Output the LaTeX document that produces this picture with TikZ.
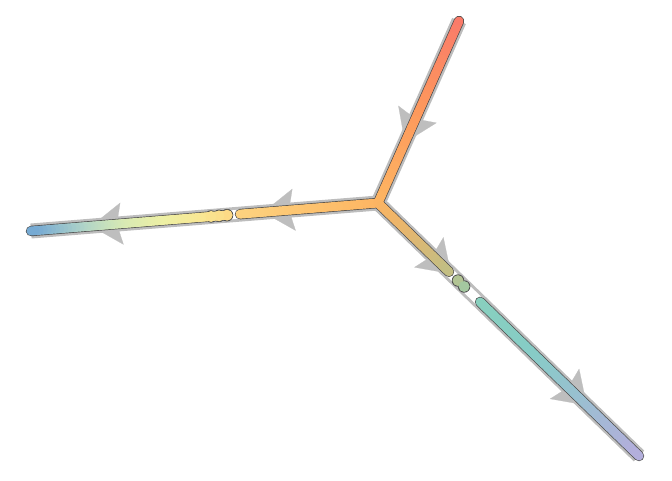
\documentclass[tikz,border=0pt]{standalone}
\usetikzlibrary{calc,arrows.meta}
\definecolor{trajgray}{HTML}{BDBDBD}
\definecolor{arrowgray}{HTML}{BEBEBE}
\definecolor{cellline}{HTML}{4A4A4A}
% colour stops
\definecolor{cT}{HTML}{FA7A6A}
\definecolor{cTm}{HTML}{FD985C}
\definecolor{cJ}{HTML}{FDB462}
\definecolor{cLa}{HTML}{FDC470}
\definecolor{cLb}{HTML}{FDD27F}
\definecolor{cLc}{HTML}{FDDA86}
\definecolor{cLd}{HTML}{F9E692}
\definecolor{cLe}{HTML}{EEF0A4}
\definecolor{cLf}{HTML}{D8EAB4}
\definecolor{cLg}{HTML}{B0D4C8}
\definecolor{cL}{HTML}{74A8D4}
\definecolor{cBa}{HTML}{E6B66E}
\definecolor{cBb}{HTML}{C2BE84}
\definecolor{cBxa}{HTML}{B2C494}
\definecolor{cBxb}{HTML}{A4C8A0}
\definecolor{cBc}{HTML}{88D0BE}
\definecolor{cBd}{HTML}{86CCC6}
\definecolor{cBe}{HTML}{9CBED2}
\definecolor{cB}{HTML}{B4AEDC}
\tikzset{
  trajband/.style={draw=trajgray, line width=15pt, line join=round},
  trajcore/.style={draw=white, line width=9pt, line join=round},
  flowtip/.style={draw=arrowgray, line width=0.2pt, -{Stealth[length=31pt,width=42pt,inset=5pt]}},
  celloutline/.style={draw=cellline, line width=10.4pt, line cap=round},
  cellfill/.style={line width=9pt, line cap=round},
  blobout/.style={fill=cellline, draw=none},
}
\newcommand{\gradrun}[4]{%
  \foreach \i in {0,...,11}{%
    \pgfmathsetmacro{\ta}{\i/12}%
    \pgfmathsetmacro{\tb}{(\i+1)/12}%
    \pgfmathsetmacro{\pc}{100-100*(\i+0.5)/12}%
    \colorlet{segcol}{#3!\pc!#4}%
    \draw[cellfill, draw=segcol] ($(#1)!\ta!(#2)$) -- ($(#1)!\tb!(#2)$);
  }%
}
\begin{document}
\begin{tikzpicture}[x=1pt,y=-1pt]
\useasboundingbox (0,0) rectangle (672,480);
% main points
\coordinate (T) at (459,21);
\coordinate (J) at (378,203);
\coordinate (L) at (31,231);
\coordinate (B) at (639,456);
% stops along branches
\coordinate (Tm) at ($(T)!0.5!(J)$);
\coordinate (La) at ($(J)!0.2248!(L)$);
\coordinate (Lb) at ($(J)!0.3977!(L)$);
\coordinate (Lc) at ($(J)!0.4323!(L)$);
\coordinate (Ld) at ($(J)!0.513!(L)$);
\coordinate (Le) at ($(J)!0.628!(L)$);
\coordinate (Lf) at ($(J)!0.7435!(L)$);
\coordinate (Lg) at ($(J)!0.8588!(L)$);
\coordinate (Lxa) at ($(J)!0.435!(L)$);
\coordinate (Lxb) at ($(J)!0.458!(L)$);
\coordinate (Lxc) at ($(J)!0.481!(L)$);
\coordinate (Ba) at ($(J)!0.12!(B)$);
\coordinate (Bb) at ($(J)!0.272!(B)$);
\coordinate (Bxa) at ($(J)!0.3065!(B)$);
\coordinate (Bxb) at ($(J)!0.33!(B)$);
\coordinate (Bc) at ($(J)!0.391!(B)$);
\coordinate (Bd) at ($(J)!0.6!(B)$);
\coordinate (Be) at ($(J)!0.8!(B)$);
% trajectory
\draw[trajband] (T) -- (J) -- (L) (J) -- (B);
\draw[trajcore] (T) -- (J) -- (L) (J) -- (B);
% direction arrows
\coordinate (a1) at ($(T)!0.668!(J)$);
\coordinate (a2) at ($(J)!0.331!(L)$);
\coordinate (a3) at ($(J)!0.827!(L)$);
\coordinate (a4) at ($(J)!0.28!(B)$);
\coordinate (a5) at ($(J)!0.80!(B)$);
\coordinate (a1t) at ($(a1)!33pt!(T)$);
\coordinate (a2t) at ($(a2)!33pt!(J)$);
\coordinate (a3t) at ($(a3)!33pt!(J)$);
\coordinate (a4t) at ($(a4)!33pt!(J)$);
\coordinate (a5t) at ($(a5)!33pt!(J)$);
\draw[flowtip] (a1t) -- (a1);
\draw[flowtip] (a2t) -- (a2);
\draw[flowtip] (a3t) -- (a3);
\draw[flowtip] (a4t) -- (a4);
\draw[flowtip] (a5t) -- (a5);
% cell outlines
\draw[celloutline] (T) -- (J);
\draw[celloutline] (J) -- (Lb);
\draw[celloutline] (Lc) -- (L);
\draw[celloutline] (J) -- (Bb);
\draw[celloutline] (Bc) -- (B);
\foreach \c in {Lxa,Lxb,Lxc,Bxa,Bxb}{\fill[blobout] (\c) circle (6.2pt);}
% cell colours
\gradrun{T}{Tm}{cT}{cTm}
\gradrun{Tm}{J}{cTm}{cJ}
\gradrun{J}{La}{cJ}{cLa}
\gradrun{La}{Lb}{cLa}{cLb}
\gradrun{Lc}{Ld}{cLc}{cLd}
\gradrun{Ld}{Le}{cLd}{cLe}
\gradrun{Le}{Lf}{cLe}{cLf}
\gradrun{Lf}{Lg}{cLf}{cLg}
\gradrun{Lg}{L}{cLg}{cL}
\fill[cLc] (Lxa) circle (5.5pt);
\fill[cLc!60!cLd] (Lxb) circle (5.5pt);
\fill[cLc!30!cLd] (Lxc) circle (5.5pt);
\gradrun{J}{Ba}{cJ}{cBa}
\gradrun{Ba}{Bb}{cBa}{cBb}
\fill[cBxa] (Bxa) circle (5.5pt);
\fill[cBxb] (Bxb) circle (5.5pt);
\gradrun{Bc}{Bd}{cBc}{cBd}
\gradrun{Bd}{Be}{cBd}{cBe}
\gradrun{Be}{B}{cBe}{cB}
\end{tikzpicture}
\end{document}
